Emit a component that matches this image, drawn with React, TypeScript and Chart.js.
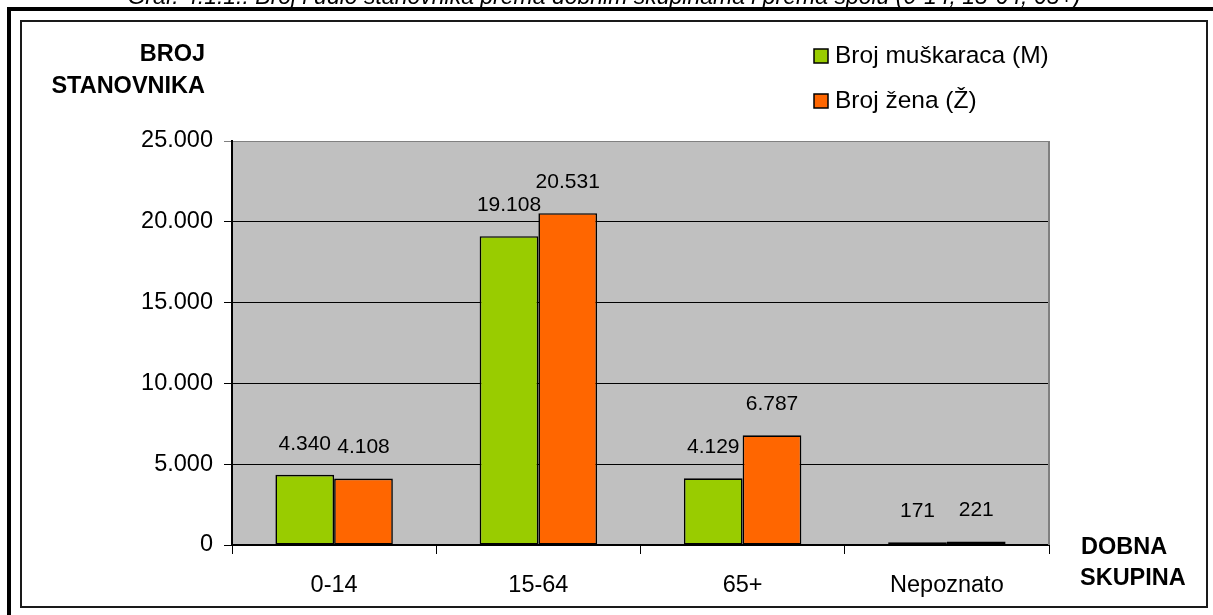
import React, { useEffect, useRef } from "react";
import { Chart, registerables } from "chart.js";

Chart.register(...registerables);

const CATEGORIES = ["0-14", "15-64", "65+", "Nepoznato"];
const MALE = [4340, 19108, 4129, 171];
const FEMALE = [4108, 20531, 6787, 221];
const SERIES_LABELS = ["Broj muškaraca (M)", "Broj žena (Ž)"];
const SERIES_COLORS = ["#99CC00", "#FF6600"];
const Y_MIN = 0;
const Y_MAX = 25000;
const Y_STEP = 5000;
const Y_TITLE = ["BROJ", "STANOVNIKA"];
const X_TITLE = ["DOBNA", "SKUPINA"];
const CAPTION =
  "Graf. 4.1.1.: Broj i udio stanovnika prema dobnim skupinama i prema spolu (0-14, 15-64, 65+)";

const FONT = "'Liberation Sans', Arial, sans-serif";
const W = 1213;
const H = 615;

const fmt = (n: number) =>
  Math.round(n)
    .toString()
    .replace(/\B(?=(\d{3})+(?!\d))/g, ".");

const decorPlugin = {
  id: "decor",
  beforeDraw(chart: any) {
    const { ctx, chartArea } = chart;
    ctx.save();
    ctx.fillStyle = "#000";
    ctx.fillRect(7, 7, W - 7, 4);
    ctx.fillRect(7, 7, 4, H - 7);
    ctx.strokeStyle = "#1a1a1a";
    ctx.lineWidth = 2;
    ctx.strokeRect(21, 21, 1186, 586);
    ctx.fillStyle = "#C0C0C0";
    ctx.fillRect(
      chartArea.left,
      chartArea.top,
      chartArea.right - chartArea.left,
      chartArea.bottom - chartArea.top
    );
    ctx.fillStyle = "#000";
    ctx.font = `italic 23px ${FONT}`;
    ctx.textAlign = "center";
    ctx.textBaseline = "alphabetic";
    ctx.fillText(CAPTION, 604, 4);
    ctx.restore();
  },
  beforeDatasetsDraw(chart: any) {
    const { ctx, chartArea } = chart;
    ctx.save();
    ctx.strokeStyle = "#808080";
    ctx.lineWidth = 2;
    ctx.beginPath();
    ctx.moveTo(chartArea.right, chartArea.top);
    ctx.lineTo(chartArea.right, chartArea.bottom);
    ctx.stroke();
    ctx.restore();
  },
  afterDatasetsDraw(chart: any) {
    const { ctx } = chart;
    ctx.save();
    ctx.fillStyle = "#000";
    ctx.font = `21px ${FONT}`;
    ctx.textAlign = "center";
    ctx.textBaseline = "middle";
    chart.data.datasets.forEach((ds: any, i: number) => {
      const meta = chart.getDatasetMeta(i);
      meta.data.forEach((bar: any, j: number) => {
        ctx.fillText(fmt(ds.data[j]), bar.x, bar.y - 31);
      });
    });

    ctx.font = `bold 23.5px ${FONT}`;
    ctx.textAlign = "right";
    ctx.fillText(Y_TITLE[0], 205, 55);
    ctx.fillText(Y_TITLE[1], 205, 87);
    ctx.textAlign = "left";
    ctx.fillText(X_TITLE[0], 1081, 548);
    ctx.fillText(X_TITLE[1], 1080, 579);

    ctx.font = `24.5px ${FONT}`;
    const rows = [56, 101];
    SERIES_LABELS.forEach((lab, i) => {
      const cy = rows[i];
      ctx.fillStyle = SERIES_COLORS[i];
      ctx.fillRect(814, cy - 7, 14, 14);
      ctx.strokeStyle = "#000";
      ctx.lineWidth = 1.5;
      ctx.strokeRect(814, cy - 7, 14, 14);
      ctx.fillStyle = "#000";
      ctx.textAlign = "left";
      ctx.fillText(lab, 835, cy);
    });
    ctx.restore();
  },
};

export default function App() {
  const ref = useRef<HTMLCanvasElement | null>(null);
  useEffect(() => {
    if (!ref.current) return;
    const chart = new Chart(ref.current, {
      type: "bar",
      data: {
        labels: CATEGORIES,
        datasets: [
          {
            label: SERIES_LABELS[0],
            data: MALE,
            backgroundColor: SERIES_COLORS[0],
            borderColor: "#000",
            borderWidth: 1.6,
            borderSkipped: false,
          },
          {
            label: SERIES_LABELS[1],
            data: FEMALE,
            backgroundColor: SERIES_COLORS[1],
            borderColor: "#000",
            borderWidth: 1.6,
            borderSkipped: false,
          },
        ],
      },
      options: {
        responsive: false,
        maintainAspectRatio: false,
        devicePixelRatio: 1,
        animation: false,
        layout: { padding: { left: 0, right: W - 1049, top: 141, bottom: 0 } },
        plugins: {
          legend: { display: false },
          title: { display: false },
          tooltip: { enabled: false },
        },
        datasets: {
          bar: { categoryPercentage: 0.575, barPercentage: 1 },
        },
        scales: {
          x: {
            afterFit: (s: any) => {
              s.height = H - 545;
            },
            grid: {
              offset: true,
              drawOnChartArea: false,
              drawTicks: true,
              tickLength: 9,
              color: "#000",
              lineWidth: 1,
            },
            border: { display: true, color: "#000", width: 2 },
            ticks: {
              color: "#000",
              font: { family: FONT, size: 23.5 },
              padding: 17,
              maxRotation: 0,
            },
          },
          y: {
            min: Y_MIN,
            max: Y_MAX,
            afterFit: (s: any) => {
              s.width = 232;
            },
            grid: {
              color: (c: any) => (c.tick && c.tick.value === Y_MAX ? "#808080" : "#000"),
              lineWidth: 1,
              tickLength: 8,
            },
            border: { display: true, color: "#000", width: 2 },
            ticks: {
              stepSize: Y_STEP,
              color: "#000",
              font: { family: FONT, size: 23.5 },
              padding: 11,
              callback: (v: any) => fmt(Number(v)),
            },
          },
        },
      },
      plugins: [decorPlugin],
    });
    return () => chart.destroy();
  }, []);
  return (
    <div style={{ position: "fixed", left: 0, top: 0, width: W, height: H, background: "#fff" }}>
      <canvas ref={ref} width={W} height={H} style={{ display: "block" }} />
    </div>
  );
}
